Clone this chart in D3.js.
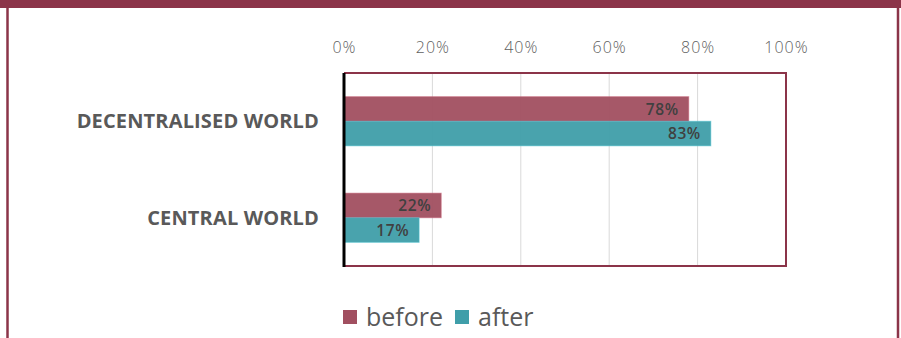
<!DOCTYPE html>
<html>
<head>
<meta charset="utf-8">
<script src="https://cdn.jsdelivr.net/npm/d3@7"></script>
<style>
  html, body { margin: 0; padding: 0; background: #fff; }
  svg { display: block; }
</style>
</head>
<body>
<svg id="chart" width="901" height="338"></svg>
<script>
const categories = ["DECENTRALISED WORLD", "CENTRAL WORLD"];
const seriesNames = ["before", "after"];
const beforeValues = [78, 22];
const afterValues = [83, 17];
const tickValues = [0, 20, 40, 60, 80, 100];

const colors = { before: "#a14f60", after: "#3f9ea9" };
const frameColor = "#8b3449";

const svg = d3.select("#chart");
const W = 901, H = 338;

// outer frame: filled band across the top, thin sides
svg.append("rect").attr("x", 0).attr("y", 0).attr("width", W).attr("height", 8).attr("fill", frameColor);
svg.append("line").attr("x1", 7.5).attr("x2", 7.5).attr("y1", 0).attr("y2", H)
  .attr("stroke", frameColor).attr("stroke-width", 2.5);
svg.append("line").attr("x1", 898).attr("x2", 898).attr("y1", 0).attr("y2", H)
  .attr("stroke", frameColor).attr("stroke-width", 2.5);

const plot = { left: 344, right: 786, top: 73, bottom: 266 };

const x = d3.scaleLinear().domain([0, 100]).range([plot.left, plot.right]);
const y = d3.scaleBand().domain(categories).range([plot.top, plot.bottom]).paddingInner(0.49).paddingOuter(0.245);
const ySub = d3.scaleBand().domain(seriesNames).range([0, y.bandwidth()]);

const rows = categories.map((c, i) => ({ cat: c, before: beforeValues[i], after: afterValues[i] }));

// vertical gridlines
svg.append("g").selectAll("line").data(tickValues.filter(t => t > 0 && t < 100)).join("line")
  .attr("x1", d => x(d)).attr("x2", d => x(d))
  .attr("y1", plot.top).attr("y2", plot.bottom)
  .attr("stroke", "#d9d9d9").attr("stroke-width", 1);

// top axis labels
const xAxis = d3.axisTop(x).tickValues(tickValues).tickFormat(d => d + "%").tickSize(0).tickPadding(0);
const gx = svg.append("g").attr("transform", `translate(0,53)`).call(xAxis);
gx.select(".domain").remove();
gx.selectAll("text")
  .attr("font-family", "'Open Sans', sans-serif")
  .attr("font-size", 16)
  .attr("font-weight", 300)
  .attr("letter-spacing", 1)
  .attr("fill", "#5f5f5f")
  .attr("dy", 0);

// bars
const groups = svg.append("g").selectAll("g").data(rows).join("g")
  .attr("transform", d => `translate(0,${y(d.cat)})`);

groups.selectAll("rect").data(d => seriesNames.map(s => ({ s, v: d[s] }))).join("rect")
  .attr("x", x(0))
  .attr("y", d => ySub(d.s))
  .attr("width", d => x(d.v) - x(0))
  .attr("height", ySub.bandwidth())
  .attr("fill", d => colors[d.s])
  .attr("fill-opacity", 0.95)
  .attr("stroke", d => d3.color(colors[d.s]).brighter(0.6))
  .attr("stroke-opacity", 0.5)
  .attr("stroke-width", 1);

groups.selectAll("text").data(d => seriesNames.map(s => ({ s, v: d[s] }))).join("text")
  .attr("x", d => x(d.v) - 10)
  .attr("y", d => ySub(d.s) + ySub.bandwidth() / 2)
  .attr("dy", "0.36em")
  .attr("text-anchor", "end")
  .attr("font-family", "'Open Sans', sans-serif")
  .attr("font-size", 15.5)
  .attr("font-weight", 600)
  .attr("letter-spacing", 0.6)
  .attr("fill", "#404040")
  .text(d => d.v + "%");

// plot border: maroon top/right/bottom, black value axis on the left
svg.append("path")
  .attr("d", `M${plot.left},${plot.top}H${plot.right}V${plot.bottom}H${plot.left}`)
  .attr("fill", "none").attr("stroke", frameColor).attr("stroke-width", 2);
svg.append("line")
  .attr("x1", plot.left).attr("x2", plot.left).attr("y1", plot.top).attr("y2", plot.bottom + 1)
  .attr("stroke", "#000").attr("stroke-width", 3);

// category labels
svg.append("g").selectAll("text").data(categories).join("text")
  .attr("x", 319)
  .attr("y", d => y(d) + y.bandwidth() / 2)
  .attr("dy", "0.36em")
  .attr("text-anchor", "end")
  .attr("font-family", "'Open Sans', sans-serif")
  .attr("font-size", 20)
  .attr("font-weight", 700)
  .attr("letter-spacing", 0.15)
  .attr("fill", "#595959")
  .text(d => d);

// legend
const legend = svg.append("g").attr("transform", "translate(343,308)");
const legendOffsets = [0, 112];
seriesNames.forEach((s, i) => {
  const g = legend.append("g").attr("transform", `translate(${legendOffsets[i]},0)`);
  g.append("rect").attr("x", 0).attr("y", 2).attr("width", 14).attr("height", 14).attr("fill", colors[s]);
  g.append("text").attr("x", 23).attr("y", 18)
    .attr("font-family", "'Open Sans', sans-serif")
    .attr("font-size", 25)
    .attr("fill", "#595959")
    .text(s);
});
</script>
</body>
</html>
